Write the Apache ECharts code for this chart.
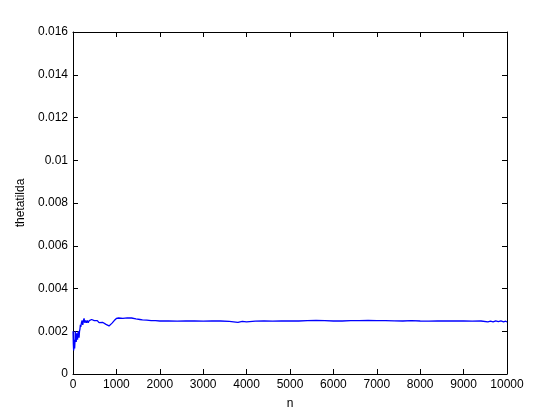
<!DOCTYPE html>
<html>
<head>
<meta charset="utf-8">
<script src="https://cdn.jsdelivr.net/npm/echarts@6/dist/echarts.min.js"></script>
<style>html,body{margin:0;padding:0;background:#fff;}#c{width:560px;height:420px;}</style>
</head>
<body>
<div id="c"></div>
<script>
var nVals = [1, 8, 15, 22, 30, 38, 45, 52, 60, 68, 75, 82, 90, 98, 105, 112, 120, 130, 140, 150, 160, 170, 180, 195, 210, 225, 240, 255, 270, 290, 310, 330, 350, 375, 400, 430, 460, 490, 520, 560, 600, 640, 680, 720, 760, 800, 830, 860, 900, 950, 1000, 1050, 1150, 1250, 1350, 1450, 1540, 1600, 1700, 1800, 1900, 2000, 2200, 2400, 2600, 2800, 3000, 3200, 3400, 3600, 3800, 3900, 4000, 4200, 4400, 4600, 4800, 5000, 5200, 5400, 5600, 5800, 6000, 6200, 6400, 6600, 6800, 7000, 7200, 7400, 7600, 7800, 8000, 8200, 8400, 8600, 8800, 9000, 9200, 9400, 9560, 9620, 9680, 9740, 9800, 9860, 9920, 9970, 10000];
var thetaVals = [0.0020, 0.0014, 0.0011, 0.0013, 0.0016, 0.0012, 0.0015, 0.0020, 0.0020, 0.0018, 0.0015, 0.0019, 0.0017, 0.0019, 0.0016, 0.0018, 0.0020, 0.0019, 0.0017, 0.0020, 0.0021, 0.0023, 0.0022, 0.0024, 0.0025, 0.0023, 0.0025, 0.0026, 0.0024, 0.0025, 0.0024, 0.0025, 0.0024, 0.0025, 0.0025, 0.00255, 0.0025, 0.0025, 0.00245, 0.0025, 0.0024, 0.0024, 0.00242, 0.0024, 0.00232, 0.00228, 0.00225, 0.0023, 0.00238, 0.0025, 0.0026, 0.00262, 0.0026, 0.00263, 0.00262, 0.00258, 0.00255, 0.00253, 0.00252, 0.0025, 0.0025, 0.00248, 0.00248, 0.00247, 0.00248, 0.00248, 0.00247, 0.00248, 0.00248, 0.00246, 0.00242, 0.00246, 0.00244, 0.00247, 0.00248, 0.00247, 0.00249, 0.00248, 0.00248, 0.0025, 0.00251, 0.0025, 0.00248, 0.00248, 0.0025, 0.0025, 0.00251, 0.0025, 0.0025, 0.00249, 0.00248, 0.0025, 0.00248, 0.00247, 0.00248, 0.00248, 0.00248, 0.00248, 0.00247, 0.00248, 0.00244, 0.00247, 0.00244, 0.00248, 0.00245, 0.00248, 0.00244, 0.00247, 0.00243];
var yTicks = [0, 0.002, 0.004, 0.006, 0.008, 0.01, 0.012, 0.014, 0.016];

var data = nVals.map(function (n, i) { return [n, thetaVals[i]]; });
var font = 'Liberation Sans, Arial, sans-serif';
var axisLine = { show: true, onZero: false, lineStyle: { color: '#000', width: 1 } };
var tick = { show: true, inside: true, length: 5, lineStyle: { color: '#000', width: 1 } };

var chart = echarts.init(document.getElementById('c'), null, { renderer: 'canvas' });
chart.setOption({
  animation: false,
  backgroundColor: '#fff',
  grid: { left: 73, right: 53, top: 32, bottom: 46, containLabel: false },
  xAxis: [{
    type: 'value', min: 0, max: 10000, interval: 1000,
    name: 'n', nameLocation: 'middle', nameGap: 24,
    nameTextStyle: { fontFamily: font, fontSize: 12, color: '#000' },
    axisLine: axisLine, axisTick: tick, splitLine: { show: false },
    axisLabel: { fontFamily: font, fontSize: 12, color: '#000', margin: 5,
      formatter: function (v) { return String(v); } }
  }, {
    type: 'value', min: 0, max: 10000, interval: 1000, position: 'top',
    axisLine: axisLine, axisTick: tick, splitLine: { show: false },
    axisLabel: { show: false }
  }],
  yAxis: [{
    type: 'value', min: 0, max: 0.016, interval: 0.002,
    name: 'thetatilda', nameLocation: 'middle', nameGap: 42,
    nameTextStyle: { fontFamily: font, fontSize: 12, color: '#000' },
    axisLine: axisLine, axisTick: tick, splitLine: { show: false },
    axisLabel: {
      fontFamily: font, fontSize: 12, color: '#000', margin: 5,
      formatter: function (v) {
        for (var i = 0; i < yTicks.length; i++) {
          if (Math.abs(v - yTicks[i]) < 1e-9) return String(yTicks[i]);
        }
        return '';
      }
    }
  }, {
    type: 'value', min: 0, max: 0.016, interval: 0.002, position: 'right',
    axisLine: axisLine, axisTick: tick, splitLine: { show: false },
    axisLabel: { show: false }
  }],
  series: [{
    type: 'line', data: data, xAxisIndex: 0, yAxisIndex: 0,
    showSymbol: false, symbol: 'none',
    lineStyle: { color: '#0000ff', width: 1.3 },
    itemStyle: { color: '#0000ff' }
  }]
});
</script>
</body>
</html>
